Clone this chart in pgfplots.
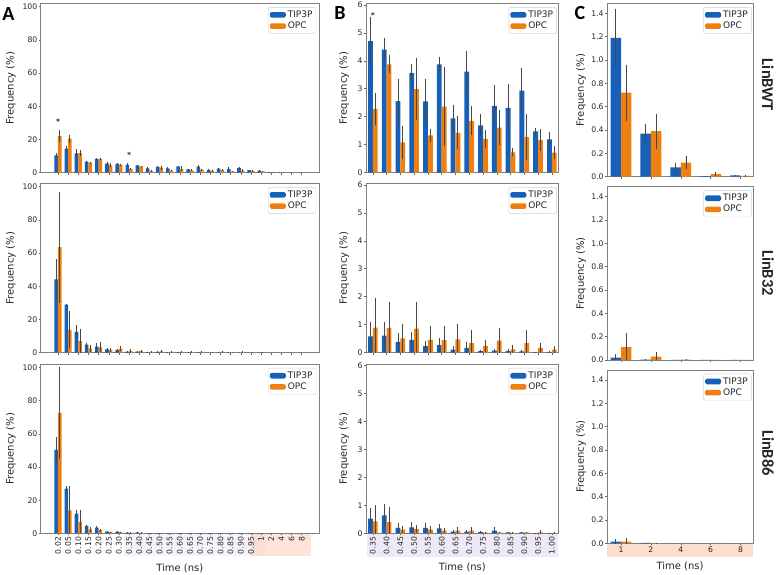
\documentclass[border=0pt]{standalone}
\usepackage{pgfplots}
\pgfplotsset{compat=1.18}
\usepackage{pgfplotstable}
\usepackage{fontspec}
\setmainfont{DejaVu Sans}
\newfontfamily\carlito{Carlito}
\definecolor{cblue}{RGB}{22,96,184}
\definecolor{corange}{RGB}{240,127,18}
\definecolor{lav}{RGB}{238,233,247}
\definecolor{lavA}{RGB}{245,242,250}
\definecolor{peach}{RGB}{252,222,204}

% columns: index, TIP3P mean, TIP3P err, OPC mean, OPC err
\pgfplotstableread{
i b be o oe
0 10.5 1.3 22.0 3.7
1 14.5 1.8 20.5 2.4
2 11.6 2.4 11.8 1.8
3 6.6 0.5 6.0 0.5
4 8.4 0.4 8.3 0.4
5 5.4 1.0 4.4 1.2
6 5.3 0.6 4.9 0.6
7 4.70 0.88 2.28 0.57
8 4.40 0.40 3.87 0.32
9 2.56 0.79 1.08 0.60
10 3.56 0.31 2.99 1.12
11 2.55 0.80 1.33 0.24
12 3.87 0.26 2.36 1.41
13 1.94 0.49 1.42 0.59
14 3.61 0.74 1.85 0.52
15 1.69 0.39 1.20 0.31
16 2.39 0.73 1.61 0.62
17 2.32 0.85 0.73 0.14
18 2.93 0.80 1.27 0.83
19 1.48 0.12 1.17 0.38
20 1.19 0.25 0.72 0.24
21 0.37 0.08 0.39 0.15
22 0.08 0.04 0.12 0.057
23 0.005 0.003 0.022 0.018
24 0.011 0.005 0.008 0.005
}\rowWT

\pgfplotstableread{
i b be o oe
0 44.2 12.0 63.6 33.4
1 29.0 0.5 13.8 11.2
2 12.6 3.8 7.0 7.2
3 4.8 1.2 2.6 2.2
4 3.6 2.4 3.2 3.0
5 2.0 1.0 1.6 1.0
6 1.6 0.8 2.4 1.6
7 0.58 0.50 0.90 1.05
8 0.61 0.50 0.88 0.92
9 0.39 0.31 0.51 0.53
10 0.46 0.29 0.86 0.96
11 0.24 0.17 0.46 0.48
12 0.27 0.24 0.45 0.49
13 0.11 0.12 0.48 0.54
14 0.17 0.20 0.34 0.46
15 0.06 0.05 0.24 0.22
16 0.07 0.05 0.43 0.46
17 0.06 0.06 0.12 0.17
18 0.05 0.04 0.34 0.46
19 0.01 0.01 0.17 0.19
20 0.02 0.03 0.11 0.125
21 0.003 0.003 0.029 0.037
22 0.001 0.001 0.004 0.004
23 0.0 0.0 0.0005 0.0005
24 0.0005 0.0005 0.0 0.0
}\rowBtt

\pgfplotstableread{
i b be o oe
0 50.4 7.6 72.6 28.0
1 27.0 1.6 14.0 14.4
2 12.0 2.0 7.0 7.0
3 4.6 0.8 2.5 1.5
4 3.6 0.8 2.0 1.0
5 1.2 0.4 0.8 0.4
6 1.2 0.4 0.8 0.4
7 0.53 0.39 0.43 0.58
8 0.65 0.39 0.41 0.53
9 0.20 0.19 0.14 0.13
10 0.22 0.19 0.16 0.15
11 0.20 0.19 0.14 0.14
12 0.18 0.15 0.10 0.09
13 0.07 0.06 0.10 0.13
14 0.07 0.05 0.10 0.13
15 0.05 0.04 0.03 0.02
16 0.10 0.12 0.04 0.03
17 0.04 0.02 0.02 0.02
18 0.04 0.03 0.04 0.03
19 0.01 0.01 0.04 0.08
20 0.014 0.02 0.014 0.029
21 0.003 0.002 0.002 0.002
22 0.0 0.0 0.0 0.0
23 0.0 0.0 0.0 0.0
24 0.0 0.0 0.0 0.0
}\rowBes

\pgfplotsset{
  base/.style={
    scale only axis, anchor=south west, clip=true,
    axis line style={black!50, line width=0.6pt},
    tick style={black!60, line width=0.5pt},
    tick align=outside, major tick length=2pt,
    tick pos=left,
    ticklabel style={font=\fontsize{7.7}{8}\selectfont, text=black!85, inner sep=1.2pt},
    /pgf/number format/assume math mode=true,
    label style={font=\fontsize{10}{12}\selectfont, text=black!85},
    ymin=0,
    ylabel={Frequency (\%)},
    legend style={at={(0.99,0.978)}, anchor=north east, draw=black!18,
      rounded corners=1.5pt, font=\fontsize{9}{10}\selectfont, text=black!85,
      inner sep=1.5pt, row sep=-1pt, cells={anchor=west},
      /tikz/every even column/.style={column sep=2.5pt}},
  },
  bb/.style={ybar, bar width=0.35, bar shift=0, fill=cblue, draw=none,
    legend image code/.code={\fill[##1] (0pt,-2.8pt) rectangle (16pt,2.8pt);},
    error bars/.cd, y dir=both, y explicit, error mark=none,
    error bar style={black!72, line width=0.9pt}},
  ob/.style={ybar, bar width=0.35, bar shift=0, fill=corange, draw=none,
    legend image code/.code={\fill[##1] (0pt,-2.8pt) rectangle (16pt,2.8pt);},
    error bars/.cd, y dir=both, y explicit, error mark=none,
    error bar style={black!72, line width=0.9pt}},
  star/.style={only marks, mark=asterisk, mark size=1.8pt, black!70,
    mark options={line width=0.6pt}, forget plot},
  colA/.style={base, width=278.3pt, height=169.3pt, xmin=-1.7, xmax=25.7, ymax=102,
    ytick={0,20,40,60,80,100}, xtick={0,...,24},
    ylabel style={at={(axis description cs:-0.107,0.5)}, anchor=center}},
  colB/.style={base, width=192.7pt, height=169.3pt, xmin=-0.5, xmax=13.5, ymax=6.05,
    ytick={0,1,2,3,4,5,6}, xtick={0,...,13},
    ylabel style={at={(axis description cs:-0.114,0.5)}, anchor=center}},
  colC/.style={base, width=146pt, height=173.4pt, xmin=-0.47, xmax=4.42, ymax=1.486,
    ytick={0,0.2,0.4,0.6,0.8,1.0,1.2,1.4}, xtick={0,...,4},
    yticklabel style={/pgf/number format/fixed, /pgf/number format/fixed zerofill,
      /pgf/number format/precision=1},
    ylabel style={at={(axis description cs:-0.178,0.5)}, anchor=center}},
}

\begin{document}
\begin{tikzpicture}[x=1pt,y=1pt]
\useasboundingbox (0pt,0pt) rectangle (776pt,575pt);

% tick-label background highlights
\fill[lavA] (124pt,19pt) rectangle (266.2pt,41.3pt);
\fill[lav] (251pt,19pt) rectangle (266.2pt,41.3pt);
\fill[peach, opacity=0.75] (251pt,19pt) rectangle (311pt,41.3pt);
\fill[lav] (367pt,18pt) rectangle (558pt,40.8pt);
\fill[peach] (607pt,18.3pt) rectangle (753pt,31.4pt);

% ---------------- Column A ----------------
\begin{axis}[colA, at={(40.7pt,402.3pt)}, xticklabels={}]
\addplot[bb] table[x expr=\thisrow{i}-0.175, y=b, y error=be] {\rowWT};
\addplot[ob] table[x expr=\thisrow{i}+0.175, y=o, y error=oe] {\rowWT};
\addplot[star] coordinates {(0,31.7) (7,11.6)};
\legend{TIP3P,OPC}
\end{axis}

\begin{axis}[colA, at={(40.7pt,222.3pt)}, xticklabels={}]
\addplot[bb] table[x expr=\thisrow{i}-0.175, y=b, y error=be] {\rowBtt};
\addplot[ob] table[x expr=\thisrow{i}+0.175, y=o, y error=oe] {\rowBtt};
\legend{TIP3P,OPC}
\end{axis}

\begin{axis}[colA, at={(40.7pt,41.5pt)},
  xticklabels={0.02,0.05,0.10,0.15,0.20,0.25,0.30,0.35,0.40,0.45,0.50,0.55,0.60,0.65,0.70,0.75,0.80,0.85,0.90,0.95,1,2,4,6,8},
  xticklabel style={rotate=90, anchor=east},
  xlabel={Time (ns)}, xlabel style={at={(axis description cs:0.5,-0.2245)}, anchor=base}]
\addplot[bb] table[x expr=\thisrow{i}-0.175, y=b, y error=be] {\rowBes};
\addplot[ob] table[x expr=\thisrow{i}+0.175, y=o, y error=oe] {\rowBes};
\legend{TIP3P,OPC}
\end{axis}

% ---------------- Column B ----------------
\begin{axis}[colB, at={(366pt,402.3pt)}, xticklabels={}, restrict x to domain=-0.6:13.6]
\addplot[bb] table[x expr=\thisrow{i}-7.175, y=b, y error=be] {\rowWT};
\addplot[ob] table[x expr=\thisrow{i}-6.825, y=o, y error=oe] {\rowWT};
\addplot[star] coordinates {(0,5.68)};
\legend{TIP3P,OPC}
\end{axis}

\begin{axis}[colB, at={(366pt,222.3pt)}, xticklabels={}, restrict x to domain=-0.6:13.6]
\addplot[bb] table[x expr=\thisrow{i}-7.175, y=b, y error=be] {\rowBtt};
\addplot[ob] table[x expr=\thisrow{i}-6.825, y=o, y error=oe] {\rowBtt};
\legend{TIP3P,OPC}
\end{axis}

\begin{axis}[colB, at={(366pt,41.5pt)}, restrict x to domain=-0.6:13.6,
  xticklabels={0.35,0.40,0.45,0.50,0.55,0.60,0.65,0.70,0.75,0.80,0.85,0.90,0.95,1.00},
  xticklabel style={rotate=90, anchor=east},
  xlabel={Time (ns)}, xlabel style={at={(axis description cs:0.5,-0.2215)}, anchor=base}]
\addplot[bb] table[x expr=\thisrow{i}-7.175, y=b, y error=be] {\rowBes};
\addplot[ob] table[x expr=\thisrow{i}-6.825, y=o, y error=oe] {\rowBes};
\legend{TIP3P,OPC}
\end{axis}

% ---------------- Column C ----------------
\begin{axis}[colC, at={(607pt,398.3pt)}, xticklabels={}, restrict x to domain=-0.6:4.6]
\addplot[bb] table[x expr=\thisrow{i}-20.175, y=b, y error=be] {\rowWT};
\addplot[ob] table[x expr=\thisrow{i}-19.825, y=o, y error=oe] {\rowWT};
\legend{TIP3P,OPC}
\end{axis}

\begin{axis}[colC, at={(607pt,215pt)}, xticklabels={}, restrict x to domain=-0.6:4.6]
\addplot[bb] table[x expr=\thisrow{i}-20.175, y=b, y error=be] {\rowBtt};
\addplot[ob] table[x expr=\thisrow{i}-19.825, y=o, y error=oe] {\rowBtt};
\legend{TIP3P,OPC}
\end{axis}

\begin{axis}[colC, at={(607pt,31.7pt)}, restrict x to domain=-0.6:4.6,
  xticklabels={1,2,4,6,8},
  xlabel={Time (ns)}, xlabel style={at={(axis description cs:0.5,-0.151)}, anchor=base}]
\addplot[bb] table[x expr=\thisrow{i}-20.175, y=b, y error=be] {\rowBes};
\addplot[ob] table[x expr=\thisrow{i}-19.825, y=o, y error=oe] {\rowBes};
\legend{TIP3P,OPC}
\end{axis}

% panel letters and row labels
\node[font=\carlito\bfseries\fontsize{20}{20}\selectfont] at (8.5pt,561pt) {A};
\node[font=\carlito\bfseries\fontsize{20}{20}\selectfont] at (340pt,562pt) {B};
\node[font=\carlito\bfseries\fontsize{20}{20}\selectfont] at (580pt,562pt) {C};
\node[rotate=-90, font=\carlito\bfseries\fontsize{16.5}{17}\selectfont, text=black!85] at (768pt,490pt) {LinBWT};
\node[rotate=-90, font=\carlito\bfseries\fontsize{16.5}{17}\selectfont, text=black!85] at (768pt,302pt) {LinB32};
\node[rotate=-90, font=\carlito\bfseries\fontsize{16.5}{17}\selectfont, text=black!85] at (768pt,122pt) {LinB86};
\end{tikzpicture}
\end{document}
